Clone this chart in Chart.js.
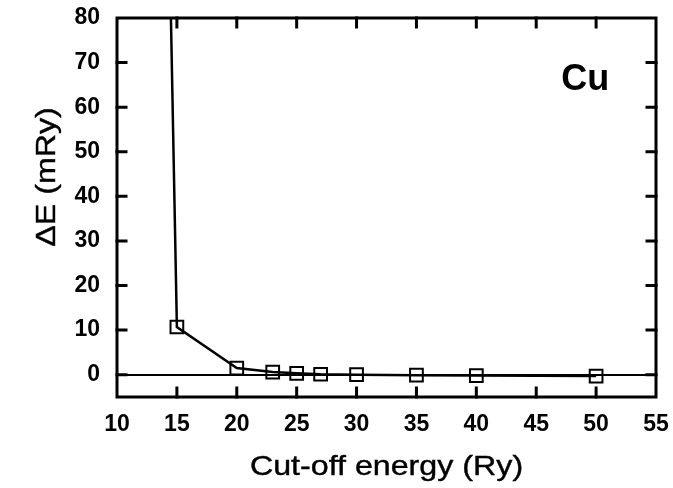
<!DOCTYPE html>
<html lang="en">
  <head>
    <meta charset="UTF-8" />
    <title>Cu cut-off energy convergence</title>
    <style>
      body {
        margin: 0;
        padding: 0;
        background: #fff;
      }
    </style>
    <script src="https://cdn.jsdelivr.net/npm/chart.js"></script>
  </head>
  <body>
    <canvas id="cutoffChart" width="673" height="488"></canvas>

    <script>
      // data (first point is off the top, only its line shows)
      const cutoffRy = [14, 15, 20, 23, 25, 27, 30, 35, 40, 50];
      const deltaE = [150, 10.7, 1.5, 0.6, 0.3, 0.1, 0, -0.1, -0.2, -0.3];
      const showMarker = [false, true, true, true, true, true, true, true, true, true];
      const xTicks = [10, 15, 20, 25, 30, 35, 40, 45, 50, 55];
      const yTicks = [0, 10, 20, 30, 40, 50, 60, 70, 80];
      const xTitle = 'Cut-off energy (Ry)';
      const yTitle = 'ΔE (mRy)';
      const element = 'Cu';

      const fontFamily = "'Liberation Sans', Arial, sans-serif";

      // draw text a bit heavier, like the scanned figure
      function heavyText(ctx, text, x, y) {
        ctx.fillText(text, x, y);
        ctx.strokeText(text, x, y);
      }

      // frame, inward ticks, axis titles and the element label
      const framePlugin = {
        id: 'frame',
        afterDraw(chart) {
          const ctx = chart.ctx;
          const area = chart.chartArea;
          const xs = chart.scales.x;
          const ys = chart.scales.y;
          const tick = 9;
          ctx.save();
          ctx.strokeStyle = '#000';
          ctx.lineWidth = 3;
          ctx.lineCap = 'square';
          ctx.strokeRect(area.left, area.top, area.right - area.left, area.bottom - area.top);

          ctx.beginPath();
          xTicks.forEach(v => {
            if (v === xs.min || v === xs.max) return;
            const px = xs.getPixelForValue(v);
            ctx.moveTo(px, area.bottom);
            ctx.lineTo(px, area.bottom - tick);
            ctx.moveTo(px, area.top);
            ctx.lineTo(px, area.top + tick);
          });
          yTicks.forEach(v => {
            if (v === ys.max) return;
            const py = ys.getPixelForValue(v);
            ctx.moveTo(area.left, py);
            ctx.lineTo(area.left + tick, py);
            ctx.moveTo(area.right, py);
            ctx.lineTo(area.right - tick, py);
          });
          ctx.stroke();

          ctx.fillStyle = '#000';
          ctx.lineWidth = 0.4;
          ctx.lineCap = 'butt';
          ctx.textAlign = 'center';
          ctx.textBaseline = 'middle';
          ctx.font = '28px ' + fontFamily;

          // x title
          ctx.save();
          ctx.translate((area.left + area.right) / 2, 467);
          ctx.scale(1.15, 1);
          heavyText(ctx, xTitle, 0, 0);
          ctx.restore();

          // y title
          ctx.save();
          ctx.translate(47, 177);
          ctx.rotate(-Math.PI / 2);
          ctx.scale(1.15, 1);
          heavyText(ctx, yTitle, 0, 0);
          ctx.restore();

          ctx.font = 'bold 36px ' + fontFamily;
          ctx.fillText(element, xs.getPixelForValue(49.1), ys.getPixelForValue(66));
          ctx.restore();
        }
      };

      const ctx1 = document.getElementById('cutoffChart').getContext('2d');
      new Chart(ctx1, {
        type: 'scatter',
        data: {
          datasets: [{
            data: cutoffRy.map((x, i) => ({ x: x, y: deltaE[i] })),
            showLine: true,
            borderColor: '#000',
            borderWidth: 2.5,
            pointStyle: 'rect',
            pointRadius: showMarker.map(s => (s ? 9 : 0)),
            pointBackgroundColor: 'rgba(255,255,255,0)',
            pointBorderColor: '#000',
            pointBorderWidth: 2
          }]
        },
        options: {
          responsive: false,
          animation: false,
          layout: {
            padding: { top: 18, right: 17, left: 0, bottom: 0 }
          },
          plugins: {
            legend: { display: false },
            tooltip: { enabled: false }
          },
          scales: {
            x: {
              type: 'linear',
              min: 10,
              max: 55,
              afterBuildTicks: scale => {
                scale.ticks = xTicks.map(v => ({ value: v }));
              },
              afterFit: scale => {
                scale.height = 91;
                scale.paddingLeft = 0;
                scale.paddingRight = 0;
              },
              grid: { display: false, drawTicks: false },
              border: { display: false },
              ticks: {
                color: '#000',
                padding: 14,
                maxRotation: 0,
                font: { family: fontFamily, size: 23, weight: 'bold' }
              }
            },
            y: {
              type: 'linear',
              min: -5,
              max: 80,
              afterBuildTicks: scale => {
                scale.ticks = yTicks.map(v => ({ value: v }));
              },
              afterFit: scale => {
                scale.width = 117;
                scale.paddingTop = 0;
                scale.paddingBottom = 0;
              },
              grid: {
                drawTicks: false,
                color: c => (c.tick && c.tick.value === 0 ? '#000' : 'rgba(0,0,0,0)'),
                lineWidth: 2
              },
              border: { display: false },
              ticks: {
                color: '#000',
                padding: 17,
                font: { family: fontFamily, size: 23, weight: 'bold' }
              }
            }
          }
        },
        plugins: [framePlugin]
      });
    </script>
  </body>
</html>
